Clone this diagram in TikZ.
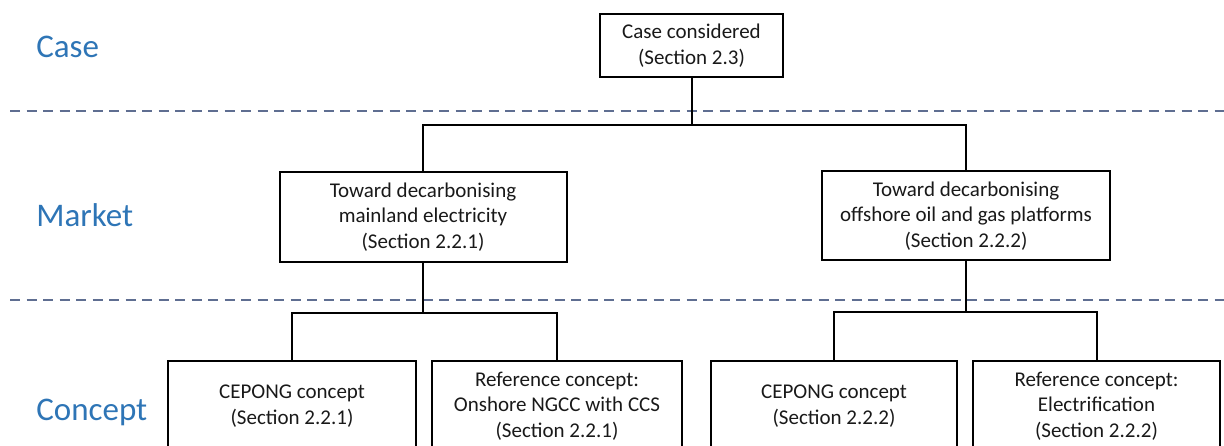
\documentclass[tikz,border=0pt]{standalone}
\usepackage{fontspec}
\setmainfont{Carlito}
\usetikzlibrary{positioning}
\definecolor{layerblue}{RGB}{46,117,182}
\definecolor{sepgray}{RGB}{95,110,145}

\begin{document}
\begin{tikzpicture}[x=1pt, y=-1pt, line width=2pt,
  box/.style={draw=black, rectangle, align=center, inner sep=0pt,
    font=\fontsize{21}{25.5}\selectfont, text=black!90},
  layer/.style={anchor=base west, text=layerblue, font=\fontsize{33}{40}\selectfont},
  sep/.style={draw=sepgray, dash pattern=on 10pt off 6.5pt, line width=2pt}]
\clip (0,0) rectangle (1224,446);

% layer labels and separators
\node[layer] (caseLbl) at (32,58) {Case};
\node[layer] (marketLbl) at (32,227) {Market};
\node[layer] (conceptLbl) at (32,420) {Concept};
\coordinate (sepA) at (10,111);
\coordinate (sepB) at (10,300);
\draw[sep] (sepA) -- ++(1214,0);
\draw[sep] (sepB) -- ++(1214,0);

% boxes
\node[box, minimum width=183pt, minimum height=63pt] (case) at (691.5,45.5) {Case considered\\(Section 2.3)};
\node[box, minimum width=287pt, minimum height=90pt] (mkLand) at (423,217) {Toward decarbonising\\mainland electricity\\(Section 2.2.1)};
\node[box, minimum width=288pt, minimum height=89pt] (mkOff) at (966,216) {Toward decarbonising\\offshore oil and gas platforms\\(Section 2.2.2)};
\node[box, minimum width=248pt, minimum height=90pt] (cepLand) at (292,406) {CEPONG concept\\(Section 2.2.1)};
\node[box, minimum width=250pt, minimum height=90pt] (refLand) at (557,406) {Reference concept:\\Onshore NGCC with CCS\\(Section 2.2.1)};
\node[box, minimum width=246pt, minimum height=90pt] (cepOff) at (834,406) {CEPONG concept\\(Section 2.2.2)};
\node[box, minimum width=247pt, minimum height=90pt] (refOff) at (1096.5,406) {Reference concept:\\Electrification\\(Section 2.2.2)};

% tree lines
\path (case.south) ++(0,47) coordinate (caseJ);
\path (mkLand.south) ++(0,50) coordinate (landJ);
\path (mkOff.south) ++(0,51) coordinate (offJ);
\draw (case.south) -- (caseJ);
\draw (caseJ) -| (mkLand.north);
\draw (caseJ) -| (mkOff.north);
\draw (mkLand.south) -- (landJ);
\draw (landJ) -| (cepLand.north);
\draw (landJ) -| (refLand.north);
\draw (mkOff.south) -- (offJ);
\draw (offJ) -| (cepOff.north);
\draw (offJ) -| (refOff.north);
\end{tikzpicture}
\end{document}
